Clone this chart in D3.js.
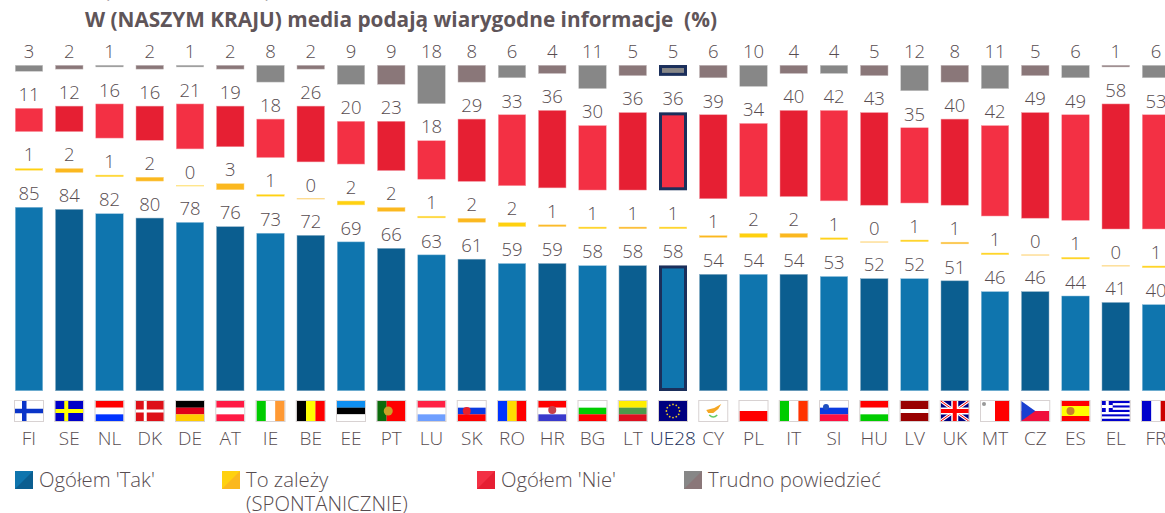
<!DOCTYPE html>
<html><head><meta charset="utf-8">
<script src="https://cdn.jsdelivr.net/npm/d3@7"></script>
<style>
html,body{margin:0;padding:0;background:#fff;overflow:hidden}
svg{display:block}
text{font-family:"Open Sans","Noto Sans",sans-serif;fill:#574c50}
</style></head><body>
<svg id="c" width="1165" height="513"></svg>
<script>
const countries=["FI","SE","NL","DK","DE","AT","IE","BE","EE","PT","LU","SK","RO","HR","BG","LT","UE28","CY","PL","IT","SI","HU","LV","UK","MT","CZ","ES","EL","FR"];
const tak   =[85,84,82,80,78,76,73,72,69,66,63,61,59,59,58,58,58,54,54,54,53,52,52,51,46,46,44,41,40];
const zalezy=[1,2,1,2,0,3,1,0,2,2,1,2,2,1,1,1,1,1,2,2,1,0,1,1,1,0,1,0,1];
const nie   =[11,12,16,16,21,19,18,26,20,23,18,29,33,36,30,36,36,39,34,40,42,43,35,40,42,49,49,58,53];
const trudno=[3,2,1,2,1,2,8,2,9,9,18,8,6,4,11,5,5,6,10,4,4,5,12,8,11,5,6,1,6];
const legendLabels=[["Ogółem 'Tak'"],["To zależy","(SPONTANICZNIE)"],["Ogółem 'Nie'"],["Trudno powiedzieć"]];
const titleText="W (NASZYM KRAJU) media podają wiarygodne informacje  (%)";

const series=[tak,zalezy,nie,trudno];
const palette=[["#0f75ae","#0b5e90"],["#ffd10f","#fbb81f"],["#f33044","#e61f33"],["#878787","#8a7779"]];
const halo=[["#8fc0dc","#86abc4"],["#ffe27a","#fdd67f"],["#f9a0aa","#f19aa3"],["#c8c8c8","#c6bcbd"]];
const NAVY="#1b2f5b";
const svg=d3.select("#c");
const W=28, GAP=36.5;
const x=d3.scalePoint().domain(countries).range([29,29+28*40.25]);
const h=d3.scaleLinear().domain([0,85]).range([0,184]);
const BASE=391;

// title
svg.append("text").attr("x",85).attr("y",27).attr("font-size",20.8).attr("font-weight",700).style("fill","#5f5559").style("white-space","pre").text(titleText);
svg.append("text").attr("x",104).attr("y",-3).attr("font-size",19.6).text("(");
svg.append("text").attr("x",265).attr("y",-3).attr("font-size",19.6).text(")");

// bars
countries.forEach((c,i)=>{
  let y=BASE;
  series.forEach((s,k)=>{
    const v=s[i], ht=h(v), top=y-ht, tone=i%2, cx=x(c);
    const g=svg.append("g");
    if(c==="UE28" && k!==1){
      g.append("rect").attr("x",cx-W/2+1.5).attr("y",top+1.5).attr("width",W-3).attr("height",Math.max(ht-3,0))
        .attr("fill",palette[k][0]).attr("stroke",NAVY).attr("stroke-width",3);
    } else {
      g.append("rect").attr("x",cx-W/2+.25).attr("y",top+.25).attr("width",W-.5).attr("height",Math.max(ht-.5,0))
        .attr("fill",v===0?halo[k][tone]:palette[k][tone]).attr("stroke",halo[k][tone]).attr("stroke-width",.5);
      if(v===0) g.append("rect").attr("x",cx-W/2).attr("y",top-.5).attr("width",W).attr("height",1.2).attr("fill",halo[k][tone]);
    }
    svg.append("text").attr("x",cx).attr("y",top-7).attr("text-anchor","middle").attr("font-size",18.5).attr("font-weight",300).text(v);
    y=top-GAP;
  });
  svg.append("text").attr("x",x(c)).attr("y",445).attr("text-anchor","middle").attr("font-size",19).attr("font-weight",300)
    .style("fill",c==="UE28"?NAVY:null).text(c);
});

// flags
const flags={
 FI:{h:["#fff"],x:["#0a34c8",7,4.5]},SE:{h:["#0000c8"],x:["#ffff00",9,4]},NL:{h:["#f00","#fff","#03f"]},DK:{h:["#dd1018"],x:["#fff",8,3]},
 DE:{h:["#000","#e0001a","#fc0"]},AT:{h:["#ff1a44","#fff","#ff1a44"]},IE:{v:["#0c0","#fff","#f93"]},BE:{v:["#000","#ff0","#f00"]},
 EE:{h:["#0f8ff0","#000","#fff"]},PT:{v:["#0b6b0b","#f00","#f00"],e:["#c9a227",11,10,4.5]},LU:{h:["#ff2244","#fff","#6f9fff"]},
 SK:{h:["#fff","#0b3be0","#f00"],e:["#e8202a",9,10,4]},RO:{v:["#03f","#fd0","#f00"]},HR:{h:["#f00","#fff","#3a3acc"],e:["#c8404a",14,9,4]},
 BG:{h:["#fff","#0c0","#f00"]},LT:{h:["#fe0","#4c9a4c","#dd1020"]},UE28:{h:["#000080"]},CY:{h:["#fff"],e:["#f5a623",14,9,4]},
 PL:{h:["#fff","#f00"]},IT:{v:["#0c0","#fff","#f30"]},SI:{h:["#fff","#0b3be0","#ff1040"],e:["#2050c0",6,6,3]},HU:{h:["#f00","#fff","#0c0"]},
 LV:{h:["#900","#900","#fff","#900","#900"]},UK:{h:["#000080"]},MT:{v:["#fff","#f00"],e:["#999",3,3,2]},CZ:{h:["#fff","#f0103c"]},
 ES:{h:["#f00","#ff0","#ff0","#f00"],e:["#c8802a",9,10,4]},EL:{h:["#00c","#fff","#00c","#fff","#00c","#fff","#00c","#fff","#00c"]},FR:{v:["#00c","#fff","#c00"]}
};
const FH=20;
countries.forEach(c=>{
  const f=flags[c], g=svg.append("g").attr("transform",`translate(${x(c)-14},401)`);
  if(f.h) f.h.forEach((col,j)=>g.append("rect").attr("y",j*FH/f.h.length).attr("width",W).attr("height",FH/f.h.length+.1).attr("fill",col));
  if(f.v) f.v.forEach((col,j)=>g.append("rect").attr("x",j*W/f.v.length).attr("width",W/f.v.length+.1).attr("height",FH).attr("fill",col));
  if(f.x){g.append("rect").attr("x",f.x[1]).attr("width",f.x[2]).attr("height",FH).attr("fill",f.x[0]);
          g.append("rect").attr("y",(FH-f.x[2])/2).attr("width",W).attr("height",f.x[2]).attr("fill",f.x[0]);}
  if(c==="UK"){
    g.append("path").attr("d",`M0 0L${W} ${FH}M${W} 0L0 ${FH}`).attr("stroke","#fff").attr("stroke-width",3);
    g.append("path").attr("d",`M0 0L${W} ${FH}M${W} 0L0 ${FH}`).attr("stroke","#f00").attr("stroke-width",1);
    g.append("rect").attr("x",10.5).attr("width",7).attr("height",FH).attr("fill","#fff");
    g.append("rect").attr("y",6.5).attr("width",W).attr("height",7).attr("fill","#fff");
    g.append("rect").attr("x",12).attr("width",4).attr("height",FH).attr("fill","#f00");
    g.append("rect").attr("y",8).attr("width",W).attr("height",4).attr("fill","#f00");
  }
  if(c==="CZ") g.append("path").attr("d",`M0 0L14 10L0 20Z`).attr("fill","#1a3fd0");
  if(c==="EL"){g.append("rect").attr("width",11).attr("height",11).attr("fill","#00c");
    g.append("rect").attr("x",4).attr("width",3).attr("height",11).attr("fill","#fff");
    g.append("rect").attr("y",4).attr("width",11).attr("height",3).attr("fill","#fff");}
  if(c==="UE28") d3.range(12).forEach(j=>{const a=j*Math.PI/6;
    g.append("circle").attr("cx",14+6.6*Math.cos(a)).attr("cy",10+6.6*Math.sin(a)).attr("r",.9).attr("fill","#e8c820");});
  if(c==="CY"){g.append("path").attr("d","M7 9L15 7L22 3L19 8L14 12L9 12Z").attr("fill","#f5a623");
    g.append("path").attr("d","M10 14Q14 18 18 14").attr("fill","none").attr("stroke","#6c6").attr("stroke-width",1.5);}
  else if(f.e) g.append("circle").attr("cx",f.e[1]).attr("cy",f.e[2]).attr("r",f.e[3]).attr("fill",f.e[0]);
  g.append("rect").attr("x",-.5).attr("y",-.5).attr("width",W+1).attr("height",FH+1).attr("fill","none").attr("stroke","#d8d2d2").attr("stroke-width",1);
});

// legend
const legendX=[15,222,477,684];
legendLabels.forEach((lines,k)=>{
  const g=svg.append("g").attr("transform",`translate(${legendX[k]},471)`);
  g.append("rect").attr("width",18).attr("height",18).attr("fill",palette[k][0]);
  g.append("path").attr("d","M18 0L18 18L0 18Z").attr("fill",palette[k][1]);
  lines.forEach((t,j)=>svg.append("text").attr("x",legendX[k]+24).attr("y",487+j*23.5).attr("font-size",20.3).attr("font-weight",300).text(t));
});
</script></body></html>
